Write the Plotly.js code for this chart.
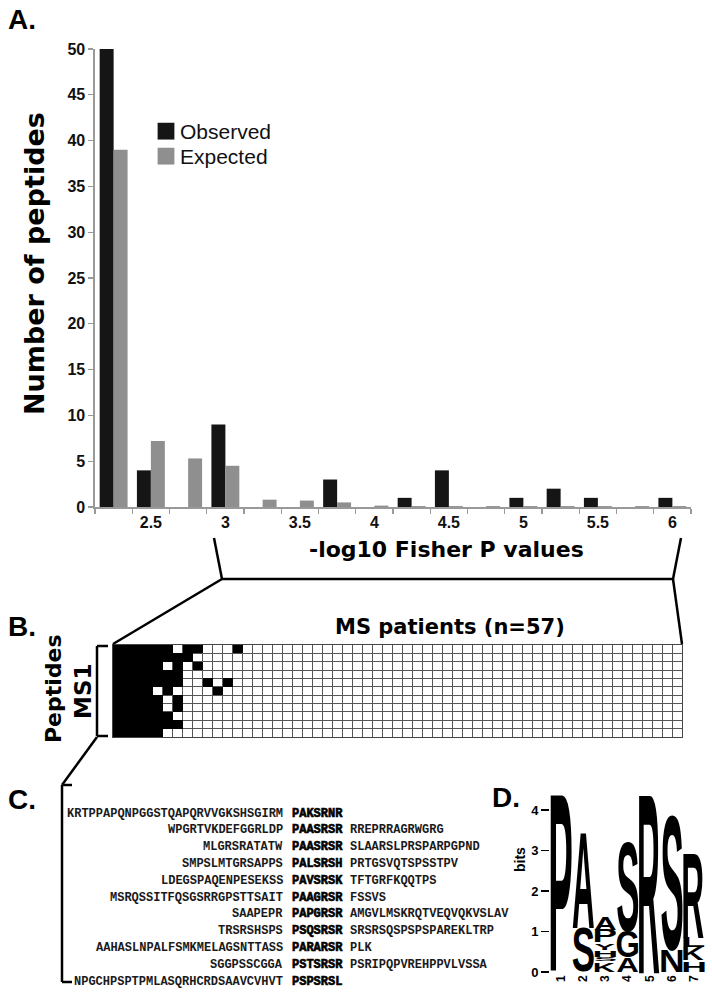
<!DOCTYPE html>
<html><head><meta charset="utf-8">
<script src="https://cdn.plot.ly/plotly-3.0.1.min.js"></script>
<style>html,body{margin:0;padding:0;background:#fff}#g{width:712px;height:1001px}</style>
</head><body><div id="g"></div><script>
// ---------- Panel A: histogram of -log10 Fisher P values
const bins = ['2.25','2.5','2.75','3','3.25','3.5','3.75','4','4.25','4.5','4.75','5','5.25','5.5','5.75','6'];
const binLabels = ['','2.5','','3','','3.5','','4','','4.5','','5','','5.5','','6'];
const observed = [50,4,0,9,0,0,3,0,1,4,0,1,2,1,0,1];
const expected = [39,7.2,5.3,4.5,0.8,0.7,0.5,0.15,0.1,0.1,0.1,0.1,0.1,0.1,0.1,0.1];
const yTicks = [0,5,10,15,20,25,30,35,40,45,50];

// ---------- Panel B: reactivity of 11 MS1 peptides in 57 MS patients
const nPatients = 57;
const peptideRows = [1,2,3,4,5,6,7,8,9,10,11];
const positivePatients = [
  [1,2,3,4,5,6,8,9,13],
  [1,2,3,4,5,6,7,8],
  [1,2,3,4,5,7,9],
  [1,2,3,4,5,6,7],
  [1,2,3,4,5,6,7,10,12],
  [1,2,3,4,6,11],
  [1,2,3,4,5,7],
  [1,2,3,4,5,7],
  [1,2,3,4,5,6],
  [1,2,3,4,5,6,7],
  [1,2,3,4,5]
];

// ---------- Panel C: peptide sequences (left flank, motif, right flank)
const leftFlanks = ['KRTPPAPQNPGGSTQAPQRVVGKSHSGIRM','WPGRTVKDEFGGRLDP','MLGRSRATATW','SMPSLMTGRSAPPS','LDEGSPAQENPESEKSS','MSRQSSITFQSGSRRGPSTTSAIT','SAAPEPR','TRSRSHSPS','AAHASLNPALFSMKMELAGSNTTASS','SGGPSSCGGA','NPGCHPSPTPMLASQRHCRDSAAVCVHVT'];
const motifs = ['PAKSRNR','PAASRSR','PAASRSR','PALSRSH','PAVSRSK','PAAGRSR','PAPGRSR','PSQSRSR','PARARSR','PSTSRSR','PSPSRSL'];
const rightFlanks = ['','RREPRRAGRWGRG','SLAARSLPRSPARPGPND','PRTGSVQTSPSSTPV','TFTGRFKQQTPS','FSSVS','AMGVLMSKRQTVEQVQKVSLAV','SRSRSQSPSPSPAREKLTRP','PLK','PSRIPQPVREHPPVLVSSA',''];

// ---------- Panel D: sequence logo (letters bottom -> top, heights in bits)
const logoPositions = [1,2,3,4,5,6,7];
const logoLetters = [['P'],['S','A'],['K','S','H','Y','P','A'],['A','G','S'],['R'],['N','S'],['H','K','L','R']];
const logoBits = [[4.33],[1.1,2.36],[0.25,0.12,0.17,0.18,0.32,0.33],[0.35,0.65,2.2],[4.33],[0.55,3.32],[0.28,0.32,0.25,2.07]];
const logoYTicks = [0,1,2,3,4];

// ---------- layout helpers (pixel -> paper)
const W = 712, H = 1001;
const fx = x => x / W, fy = y => 1 - y / H;
const BOLD = 'DejaVu Sans', SANS = 'Liberation Sans', MONO = 'Liberation Mono';
function seg(x0,y0,x1,y1,w){return {type:'line',xref:'paper',yref:'paper',x0:fx(x0),y0:fy(y0),x1:fx(x1),y1:fy(y1),line:{color:'#000',width:w||2.5}};}
function ptext(t,x,y,size,fam,o){return Object.assign({xref:'paper',yref:'paper',x:fx(x),y:fy(y),text:t,showarrow:false,borderpad:0,font:{family:fam,size:size,color:'#000'},xanchor:'center',yanchor:'middle'},o||{});}

// heatmap matrix
const zMat = peptideRows.map((r,i) => Array.from({length:nPatients},(_,j)=> positivePatients[i].indexOf(j+1) >= 0 ? 1 : 0));
const patientIdx = Array.from({length:nPatients},(_,j)=>j+1);

const data = [
  {type:'bar', name:'Observed', x:bins, y:observed, marker:{color:'#151515', line:{width:0}}, xaxis:'x', yaxis:'y', hoverinfo:'skip', legend:'legend'},
  {type:'bar', name:'Expected', x:bins, y:expected, marker:{color:'#8f8f8f', line:{width:0}}, xaxis:'x', yaxis:'y', hoverinfo:'skip', legend:'legend2'},
  {type:'heatmap', x:patientIdx, y:peptideRows, z:zMat, zmin:0, zmax:1,
   colorscale:[[0,'rgba(255,255,255,0)'],[1,'#000']], showscale:false, xaxis:'x2', yaxis:'y2', hoverinfo:'skip'},
  {type:'scatter', mode:'none', x:[0], y:[0], xaxis:'x3', yaxis:'y3', showlegend:false, hoverinfo:'skip'},
  {type:'scatter', mode:'none', x:logoPositions, y:logoPositions.map(()=>0), xaxis:'x4', yaxis:'y4', showlegend:false, hoverinfo:'skip'}
];

const annotations = [
  ptext('<b>A.</b>', 7, 20, 28, SANS, {xanchor:'left'}),
  ptext('<b>B.</b>', 7, 626, 28, SANS, {xanchor:'left'}),
  ptext('<b>C.</b>', 7, 799, 28, SANS, {xanchor:'left'}),
  ptext('<b>D.</b>', 491, 797, 28, SANS, {xanchor:'left'}),
  ptext('<b>Number of peptides</b>', 35, 264, 27, BOLD, {textangle:-90}),
  ptext('<b>-log10 Fisher P values</b>', 447, 549, 22, BOLD),
  ptext('<b>MS patients (n=57)</b>', 450, 627, 21, BOLD),
  ptext('<b>Peptides</b>', 53, 689, 22, BOLD, {textangle:-90}),
  ptext('<b>MS1</b>', 83, 692, 23, BOLD, {textangle:-90}),
  ptext('<b>bits</b>', 520, 860, 14, SANS, {textangle:-90})
];

// Panel C sequence text
const flankFont = {family:MONO, size:12, color:'#1a1a1a'};
const motifFont = {family:MONO, size:12, color:'#000'};
const motifIdx = [];
leftFlanks.forEach((s,i)=>{
  annotations.push({xref:'x3',yref:'y3',x:283.5,y:i,text:'<b>'+s+'</b>',showarrow:false,borderpad:0,xanchor:'right',yanchor:'middle',font:flankFont});
  motifIdx.push(annotations.length);
  annotations.push({xref:'x3',yref:'y3',x:290.5,y:i,text:'<b>'+motifs[i]+'</b>',showarrow:false,borderpad:0,xanchor:'left',yanchor:'middle',font:motifFont});
  if(rightFlanks[i]) annotations.push({xref:'x3',yref:'y3',x:348.5,y:i,text:'<b>'+rightFlanks[i]+'</b>',showarrow:false,borderpad:0,xanchor:'left',yanchor:'middle',font:flankFont});
});

// Panel D logo letters (stretched after render)
const logoInfo = [];
logoPositions.forEach((p,k)=>{
  let base = 0;
  logoLetters[k].forEach((L,m)=>{
    const h = logoBits[k][m];
    logoInfo.push({idx:annotations.length, letter:L, pos:p, bottom:base, top:base+h});
    annotations.push({xref:'x4',yref:'y4',x:p,y:base+h/2,text:'<b>'+L+'</b>',showarrow:false,borderpad:0,
      xanchor:'center',yanchor:'middle',font:{family:SANS,size:20,color:'#000'}});
    base += h;
  });
});

const shapes = [
  seg(214,538,222,579), seg(222,579,673,579), seg(681,538,673,579),
  seg(222,579,113,644), seg(673,579,682,644),
  seg(108,646,97,646), seg(97,646,97,736), seg(97,736,108,736),
  seg(97,737,62,785),
  seg(72,785,62,785), seg(62,785,62,982), seg(62,982,72,982)
];

const legFont = {family:SANS, size:21, color:'#111'};
const layout = {
  width:W, height:H, margin:{l:0,r:0,t:0,b:0}, paper_bgcolor:'#fff', plot_bgcolor:'rgba(0,0,0,0)',
  font:{family:SANS, color:'#111'},
  barmode:'group', bargap:0.25, bargroupgap:0,
  showlegend:true,
  legend:{x:fx(140), y:fy(111), xanchor:'left', yanchor:'top', bgcolor:'rgba(0,0,0,0)', font:legFont, itemwidth:30},
  legend2:{x:fx(140), y:fy(136), xanchor:'left', yanchor:'top', bgcolor:'rgba(0,0,0,0)', font:legFont, itemwidth:30},
  xaxis:{domain:[fx(95),fx(691)], anchor:'y', type:'category', tickmode:'array', tickvals:bins, ticktext:binLabels,
         tickson:'boundaries', ticks:'outside', ticklen:5, tickcolor:'#999', tickwidth:1.2,
         showline:true, linecolor:'#999', linewidth:1.6, showgrid:false, zeroline:false,
         tickfont:{family:SANS, size:16, color:'#111', weight:'bold'}},
  yaxis:{domain:[fy(507),fy(49)], anchor:'x', range:[0,50], tickmode:'array', tickvals:yTicks,
         ticks:'outside', ticklen:5, tickcolor:'#999', tickwidth:1.2,
         showline:true, linecolor:'#999', linewidth:1.6, showgrid:false, zeroline:false,
         tickfont:{family:SANS, size:16, color:'#111', weight:'bold'}},
  xaxis2:{domain:[fx(113),fx(682)], anchor:'y2', range:[0.5,nPatients+0.5], tickmode:'linear', tick0:1.5, dtick:1,
          showticklabels:false, ticks:'', showgrid:true, gridcolor:'#555', gridwidth:1, zeroline:false,
          showline:true, mirror:true, linecolor:'#444', linewidth:1},
  yaxis2:{domain:[fy(737),fy(645)], anchor:'x2', range:[peptideRows.length+0.5,0.5], tickmode:'linear', tick0:1.5, dtick:1,
          showticklabels:false, ticks:'', showgrid:true, gridcolor:'#555', gridwidth:1, zeroline:false,
          showline:true, mirror:true, linecolor:'#444', linewidth:1},
  xaxis3:{domain:[0,1], anchor:'y3', range:[0,W], visible:false},
  yaxis3:{domain:[fy(990),fy(805.2)], anchor:'x3', range:[10.5,-0.5], visible:false},
  xaxis4:{domain:[fx(550),fx(705)], anchor:'y4', range:[0.5,7.5], tickmode:'array', tickvals:logoPositions,
          ticktext:logoPositions.map(String), tickangle:-90, ticks:'', showline:false, showgrid:false, zeroline:false,
          tickfont:{family:SANS, size:12, color:'#000', weight:'bold'}},
  yaxis4:{domain:[fy(972),fy(795.8)], anchor:'x4', range:[0,4.35], tickmode:'array', tickvals:logoYTicks,
          ticks:'outside', ticklen:8, tickwidth:1.5, tickcolor:'#000', showline:false, showgrid:false, zeroline:false,
          tickfont:{family:SANS, size:13, color:'#000', weight:'bold'}},
  annotations:annotations, shapes:shapes
};

const gd = document.getElementById('g');

function stretchLogo(){
  const fl = gd._fullLayout, xa = fl.xaxis4, ya = fl.yaxis4;
  const gRect = gd.getBoundingClientRect();
  const ctx = document.createElement('canvas').getContext('2d');
  ctx.font = 'bold 100px "' + SANS + '"';
  logoInfo.forEach(info=>{
    const grp = gd.querySelector('.annotation[data-index="'+info.idx+'"]');
    if(!grp) return;
    const el = grp.querySelector('text');
    if(!el) return;
    el.removeAttribute('transform');
    const bb = el.getBBox();
    const ctm = el.parentNode.getScreenCTM();
    const offX = ctm.e - gRect.left, offY = ctm.f - gRect.top;
    const m = ctx.measureText(info.letter);
    const fa = m.fontBoundingBoxAscent, fdsc = m.fontBoundingBoxDescent;
    const iT = (fa - m.actualBoundingBoxAscent)/(fa+fdsc);
    const iB = (fa + m.actualBoundingBoxDescent)/(fa+fdsc);
    const iL = (-m.actualBoundingBoxLeft)/m.width;
    const iR = (m.actualBoundingBoxRight)/m.width;
    const Lx = bb.x + bb.width*iL, Rx = bb.x + bb.width*iR;
    const Ty = bb.y + bb.height*iT, By = bb.y + bb.height*iB;
    const pad = 0.4;
    const tx0 = xa._offset + xa.l2p(info.pos-0.5) + pad - offX;
    const tx1 = xa._offset + xa.l2p(info.pos+0.5) - pad - offX;
    const ty0 = ya._offset + ya.l2p(info.top) + 0.4 - offY;
    const ty1 = ya._offset + ya.l2p(info.bottom) - 0.4 - offY;
    const sx = (tx1-tx0)/(Rx-Lx), sy = (ty1-ty0)/(By-Ty);
    const tX = tx0 - sx*Lx, tY = ty0 - sy*Ty;
    el.setAttribute('transform','matrix('+sx+',0,0,'+sy+','+tX+','+tY+')');
  });
}
function fixLegend(){
  gd.querySelectorAll('.legendpoints path').forEach(p=>{
    const t = p.getAttribute('transform') || '';
    p.setAttribute('transform', t + ' translate(6,0) scale(1.4)');
  });
}
function heavyMotifs(){
  motifIdx.forEach(i=>{
    const grp = gd.querySelector('.annotation[data-index="'+i+'"]');
    if(!grp) return;
    const el = grp.querySelector('text');
    if(el){ el.style.stroke = '#000'; el.style.strokeWidth = '0.6px'; }
  });
}

Plotly.newPlot(gd, data, layout, {staticPlot:true, displayModeBar:false}).then(()=>{ stretchLogo(); fixLegend(); heavyMotifs(); });
</script></body></html>
